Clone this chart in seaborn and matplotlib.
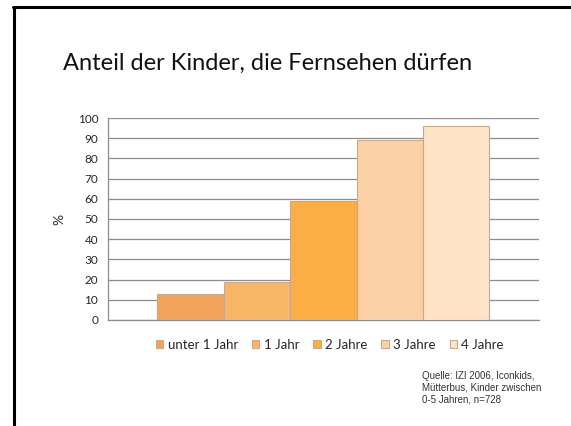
import matplotlib
matplotlib.use("Agg")
import matplotlib.pyplot as plt
from matplotlib.lines import Line2D
import pandas as pd
import seaborn as sns

# data
age_groups = ["unter 1 Jahr", "1 Jahr", "2 Jahre", "3 Jahre", "4 Jahre"]
share_tv = [13, 19, 59, 89, 96]
bar_colors = ["#F2A45F", "#F8B567", "#FBAE45", "#FDD1A6", "#FEE3C7"]
y_ticks = list(range(0, 101, 10))

title = "Anteil der Kinder, die Fernsehen dürfen"
source = "Quelle: IZI 2006, Iconkids,\nMütterbus, Kinder zwischen\n0-5 Jahren, n=728"

df = pd.DataFrame({"gruppe": [""] * len(age_groups), "alter": age_groups, "anteil": share_tv})

sns.set_style("white")
plt.rcParams["font.family"] = ["Lato", "DejaVu Sans"]

fig = plt.figure(figsize=(5.71, 4.26), dpi=100)
ax = fig.add_axes([0.189, 0.249, 0.755, 0.474])

sns.barplot(data=df, x="gruppe", y="anteil", hue="alter", hue_order=age_groups,
            palette=bar_colors, width=0.77, dodge=True, gap=0,
            edgecolor="#C9A98C", linewidth=0.8, saturation=1, ax=ax, zorder=3)

ax.set_xlim(-0.5, 0.5)
ax.set_ylim(0, 100)
ax.set_yticks(y_ticks)
ax.set_yticklabels([str(t) for t in y_ticks], fontsize=8.5)
ax.set_xticks([-0.5, 0.5])
ax.set_xticklabels(["", ""])
ax.tick_params(axis="both", direction="out", length=4, width=0.8, color="#8C8C8C", pad=3)
ax.grid(axis="y", color="#8C8C8C", linewidth=0.9, zorder=0)
ax.set_xlabel("")
ax.set_ylabel("%", fontsize=10, labelpad=9)

for side in ["top", "right"]:
    ax.spines[side].set_visible(False)
for side in ["left", "bottom"]:
    ax.spines[side].set_color("#8C8C8C")
    ax.spines[side].set_linewidth(0.9)

handles, labels = ax.get_legend_handles_labels()
ax.legend(handles, labels, loc="center", bbox_to_anchor=(0.578, 0.19),
          bbox_transform=fig.transFigure, ncol=5, frameon=False, fontsize=9.5,
          handlelength=0.55, handleheight=0.55, handletextpad=0.35, columnspacing=1.05)

fig.text(0.468, 0.852, title, fontsize=17, ha="center", va="center", color="#111111")
fig.text(0.739, 0.05, source, fontsize=7, ha="left", va="bottom",
         family="Liberation Sans", color="#333333", linespacing=1.25)

# slide frame
fig.add_artist(Line2D([0.024, 0.024], [0.0, 0.984], transform=fig.transFigure, color="black", linewidth=2.2))
fig.add_artist(Line2D([0.022, 1.0], [0.984, 0.984], transform=fig.transFigure, color="black", linewidth=2.2))

fig.savefig("out.png", dpi=100)
